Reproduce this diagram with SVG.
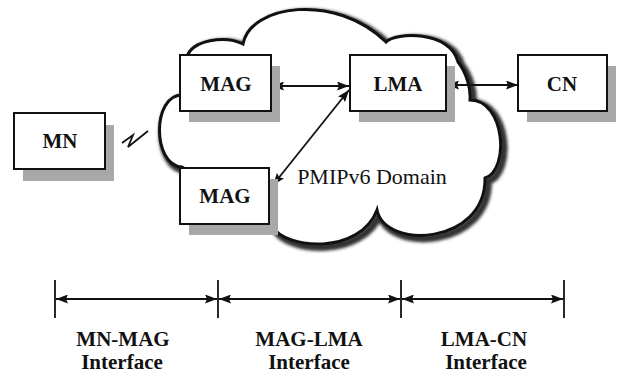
<svg xmlns="http://www.w3.org/2000/svg" width="621" height="374" viewBox="0 0 621 374">
  <style>
    .box { fill: #ffffff; stroke: #111111; stroke-width: 2; }
    .shadow { fill: #a8a8a8; }
    .label { font-family: 'Liberation Serif', 'DejaVu Serif', serif; font-weight: bold; font-size: 21px; fill: #111111; text-anchor: middle; }
    .link { stroke: #111111; stroke-width: 1.8; fill: none; }
    .tick { stroke: #111111; stroke-width: 1.8; }
  </style>
  <defs>
    <marker id="arrow" viewBox="0 0 12 9" refX="12" refY="4.5" markerWidth="12" markerHeight="9" markerUnits="userSpaceOnUse" orient="auto-start-reverse">
      <path d="M0,0 L12,4.5 L0,9 L2,4.5 z" fill="#111111"/>
    </marker>
    <filter id="soft" x="-10%" y="-10%" width="120%" height="120%">
      <feGaussianBlur stdDeviation="1.8"/>
    </filter>
    <path id="cloudShape" d="M187,57 C192,40 225,35 243,44 C250,5 335,-8 386,42 C395,32 450,30 458,62 C466,72 471,88 470,100 C505,100 510,170 485,178 C486,245 385,250 377,210 C360,255 285,250 272,226 L182,167 C152,165 152,95 182,95 Z"/>
  </defs>

  <!-- PMIPv6 domain cloud -->
  <g id="cloud">
    <use href="#cloudShape" transform="translate(3,3)" fill="none" stroke="#333333" stroke-width="8" filter="url(#soft)"/>
    <use href="#cloudShape" fill="#ffffff" stroke="#111111" stroke-width="3"/>
    <text font-family="Liberation Serif, DejaVu Serif, serif" font-size="22" fill="#111111" text-anchor="middle" x="372" y="184">PMIPv6 Domain</text>
  </g>

  <!-- connectors -->
  <g id="connectors">
    <line class="link" x1="272" y1="86" x2="349" y2="86" marker-start="url(#arrow)" marker-end="url(#arrow)"/>
    <line class="link" x1="273" y1="185" x2="349" y2="90" marker-start="url(#arrow)" marker-end="url(#arrow)"/>
    <line class="link" x1="447" y1="85" x2="518" y2="85" marker-start="url(#arrow)" marker-end="url(#arrow)"/>
    <polyline class="link" stroke-width="2.5" points="122,143 133,135 128,147 148,131"/>
  </g>

  <g id="node-mn" font-family="Liberation Serif, DejaVu Serif, serif">
    <rect class="shadow" x="23" y="125" width="91" height="56"/>
    <rect class="box" x="14" y="113" width="91" height="56"/>
    <text class="label" x="60" y="148">MN</text>
  </g>
  <g id="node-mag1" font-family="Liberation Serif, DejaVu Serif, serif">
    <rect class="shadow" x="189" y="66" width="91" height="56"/>
    <rect class="box" x="180" y="55" width="91" height="56"/>
    <text class="label" x="226" y="91">MAG</text>
  </g>
  <g id="node-mag2" font-family="Liberation Serif, DejaVu Serif, serif">
    <rect class="shadow" x="189" y="179" width="89" height="56"/>
    <rect class="box" x="180" y="168" width="89" height="56"/>
    <text class="label" x="225" y="203">MAG</text>
  </g>
  <g id="node-lma" font-family="Liberation Serif, DejaVu Serif, serif">
    <rect class="shadow" x="359" y="66" width="96" height="56"/>
    <rect class="box" x="350" y="55" width="96" height="56"/>
    <text class="label" x="398" y="91">LMA</text>
  </g>
  <g id="node-cn" font-family="Liberation Serif, DejaVu Serif, serif">
    <rect class="shadow" x="527" y="66" width="89" height="56"/>
    <rect class="box" x="518" y="55" width="89" height="56"/>
    <text class="label" x="562" y="91">CN</text>
  </g>

  <!-- interface span markers -->
  <g id="interfaces" font-family="Liberation Serif, DejaVu Serif, serif">
    <line class="tick" x1="55" y1="280" x2="55" y2="318"/>
    <line class="tick" x1="218" y1="280" x2="218" y2="318"/>
    <line class="tick" x1="401" y1="280" x2="401" y2="318"/>
    <line class="tick" x1="564" y1="280" x2="564" y2="318"/>
    <line class="link" x1="56" y1="299" x2="217" y2="299" marker-start="url(#arrow)" marker-end="url(#arrow)"/>
    <line class="link" x1="219" y1="299" x2="400" y2="299" marker-start="url(#arrow)" marker-end="url(#arrow)"/>
    <line class="link" x1="402" y1="299" x2="563" y2="299" marker-start="url(#arrow)" marker-end="url(#arrow)"/>
    <text class="label" x="123" y="346">MN-MAG</text>
    <text class="label" x="122" y="369">Interface</text>
    <text class="label" x="309" y="346">MAG-LMA</text>
    <text class="label" x="309" y="369">Interface</text>
    <text class="label" x="484" y="346">LMA-CN</text>
    <text class="label" x="486" y="369">Interface</text>
  </g>
</svg>
